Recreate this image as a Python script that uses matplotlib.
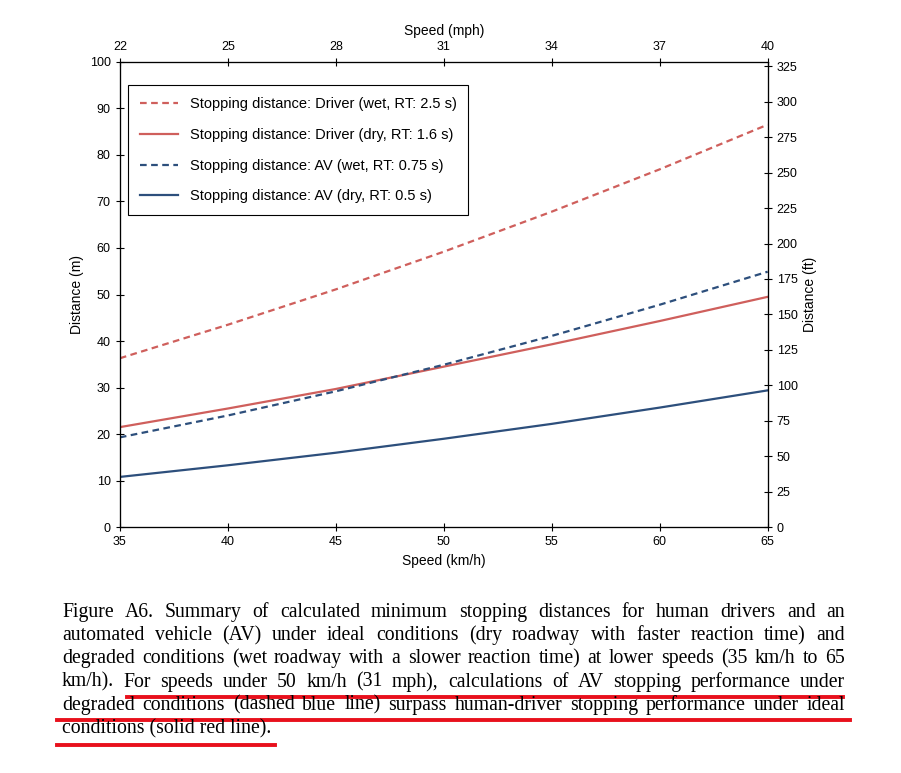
import matplotlib
matplotlib.use("Agg")
import matplotlib.pyplot as plt
from matplotlib.lines import Line2D

speed_kmh = [35, 40, 45, 50, 55, 60, 65]
driver_wet = [36.3, 43.5, 51.1, 59.2, 67.8, 76.9, 86.5]
driver_dry = [21.5, 25.5, 29.7, 34.5, 39.3, 44.3, 49.5]
av_wet = [19.3, 24.0, 29.2, 34.9, 41.1, 47.8, 54.9]
av_dry = [10.8, 13.3, 16.0, 19.0, 22.2, 25.7, 29.4]
mph_ticks = [22, 25, 28, 31, 34, 37, 40]
ft_ticks = [0, 25, 50, 75, 100, 125, 150, 175, 200, 225, 250, 275, 300, 325]

red = "#cf5f5c"
blue = "#2d4f7c"
plt.rcParams["font.family"] = ["Liberation Sans", "DejaVu Sans"]

fig = plt.figure(figsize=(9.01, 7.73), dpi=100)
ax = fig.add_axes([0.133, 0.318, 0.719, 0.602])
ax.plot(speed_kmh, driver_wet, color=red, ls=(0, (3, 2)), lw=1.6, label="Stopping distance: Driver (wet, RT: 2.5 s)")
ax.plot(speed_kmh, driver_dry, color=red, lw=1.6, label="Stopping distance: Driver (dry, RT: 1.6 s)")
ax.plot(speed_kmh, av_wet, color=blue, ls=(0, (3, 2)), lw=1.6, label="Stopping distance: AV (wet, RT: 0.75 s)")
ax.plot(speed_kmh, av_dry, color=blue, lw=1.6, label="Stopping distance: AV (dry, RT: 0.5 s)")
ax.set_xlim(35, 65)
ax.set_ylim(0, 100)
ax.set_yticks(range(0, 101, 10))
ax.set_xlabel("Speed (km/h)", fontsize=10)
ax.set_ylabel("Distance (m)", fontsize=10)
ax.tick_params(labelsize=9, direction="inout", length=6)
leg = ax.legend(loc="upper left", bbox_to_anchor=(0.002, 0.965), fontsize=10.5, fancybox=False,
                edgecolor="black", framealpha=1, handlelength=2.6, labelspacing=1.15, borderpad=0.8)
leg.get_frame().set_linewidth(0.8)

axt = ax.twiny()
axt.set_xlim(22, 40)
axt.set_xticks(mph_ticks)
axt.set_xlabel("Speed (mph)", fontsize=10)
axt.tick_params(labelsize=9, direction="inout", length=6)

axr = ax.twinx()
axr.set_ylim(0, 328.08)
axr.set_yticks(ft_ticks)
axr.set_ylabel("Distance (ft)", fontsize=10)
axr.tick_params(labelsize=9, direction="inout", length=6)

lines = [
    "Figure A6.  Summary of calculated minimum stopping distances for human drivers and an",
    "automated vehicle (AV) under ideal conditions (dry roadway with faster reaction time) and",
    "degraded conditions (wet roadway with a slower reaction time) at lower speeds (35 km/h to 65",
    "km/h).  For speeds under 50 km/h (31 mph), calculations of AV stopping performance under",
    "degraded conditions (dashed blue line) surpass human-driver stopping performance under ideal",
    "conditions (solid red line).",
]
W, H = 901, 773
x0, x1 = 62, 845
fs = 14.2
renderer = fig.canvas.get_renderer()
for i, line in enumerate(lines):
    yb = 617 + i * 23.2
    if i == len(lines) - 1:
        fig.text(x0 / W, 1 - yb / H, line, fontsize=fs, family="Liberation Serif", va="baseline")
        continue
    words = [w for w in line.split(" ") if w]
    arts = [fig.text(0, 1 - yb / H, w, fontsize=fs, family="Liberation Serif", va="baseline") for w in words]
    widths = [a.get_window_extent(renderer).width for a in arts]
    gap = (x1 - x0 - sum(widths)) / (len(words) - 1)
    x = x0
    for a, w in zip(arts, widths):
        a.set_x(x / W)
        x += w + gap

for (xa, xb, y) in [(127, 843, 697), (57, 850, 720), (57, 275, 745)]:
    fig.add_artist(Line2D([xa / W, xb / W], [1 - y / H, 1 - y / H], color="#e8101c", lw=2.8))

fig.savefig("out.png", dpi=100)
